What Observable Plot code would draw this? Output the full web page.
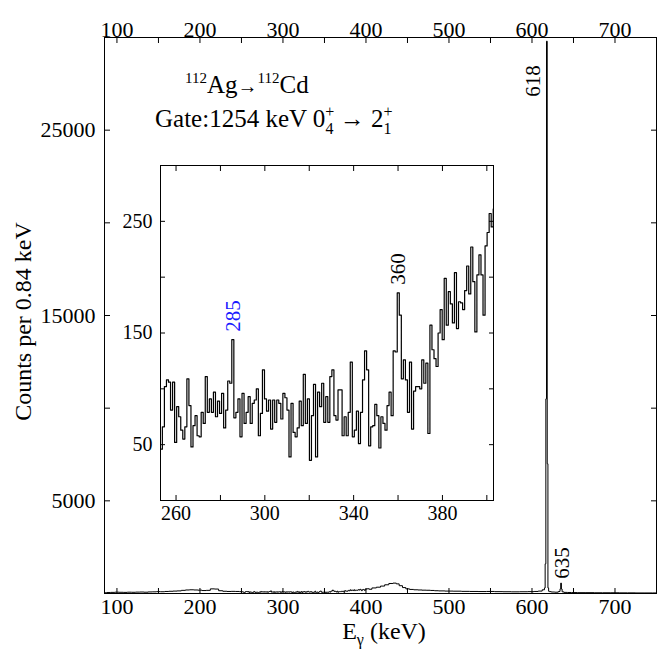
<!DOCTYPE html>
<html><head><meta charset="utf-8">
<script src="https://cdn.jsdelivr.net/npm/d3@7"></script>
<script src="https://cdn.jsdelivr.net/npm/@observablehq/plot@0.6"></script>
<style>
body{margin:0;background:#fff;}
#wrap{position:relative;width:657px;height:649px;overflow:hidden;}
</style></head><body><div id="wrap"></div>
<script>
const FONT = "'Liberation Serif', 'Times New Roman', serif";

// ---- main spectrum (energy in keV, counts per 0.84 keV) ----
const lowEnergy = [85,90,95,100,105,110,115,120,125,130,135,140,145,150,155,160,165,170,175,180,185,190,195,200,205,210,215,220,225,230,235,240,245,250];
const lowCounts = [40,55,60,70,65,60,70,65,75,80,70,85,90,100,95,110,120,130,140,170,190,200,190,180,160,170,250,240,150,120,110,115,110,100];

const highEnergy = [410,415,420,425,430,435,438,442,446,450,455,460,465,470,475,480,485,490,500,510,520,530,540,550,560,570,580,590,600,605,610,614.6,615.4,616.3,617.1,617.9,618.8,619.6,620.5,621.3,625,630,633.4,634.2,635.0,635.9,636.7,640,645,650,660,670,680,690,700,710,720,730,740,750];
const highCounts = [300,340,400,470,540,560,520,420,320,250,220,200,190,180,175,165,150,140,130,125,115,110,105,110,100,95,90,95,100,110,130,200,300,1600,10500,29800,7000,300,120,100,80,70,110,250,560,240,90,60,55,50,45,45,40,40,40,35,35,30,30,30];

// ---- inset spectrum: consecutive bins starting at insetStart ----
const insetStart = 252;
const insetBin = 0.92;
const insetCounts = [81,46,66,102,108,106,81,106,52,84,75,63,55,66,109,85,48,67,76,58,57,79,69,111,79,91,79,97,75,89,78,96,65,81,107,105,
144,74,79,91,57,96,69,79,93,69,87,90,100,58,78,117,91,80,90,64,90,70,90,87,73,96,92,81,39,87,61,57,65,89,67,113,69,91,36,76,104,39,97,84,105,70,93,70,111,117,76,72,99,99,58,75,58,79,124,57,63,80,51,79,108,134,117,49,66,67,86,76,47,75,69,63,85,97,76,134,133,
186,166,109,126,108,79,124,64,98,102,102,100,126,105,123,60,157,135,127,120,150,171,144,199,157,187,176,159,204,154,178,177,171,188,210,185,227,196,151,202,220,202,166,228,240,257,245,261,228];

// ---- ticks ----
const mainXTicks = [100,150,200,250,300,350,400,450,500,550,600,650,700,750];
const mainXLabels = [100,200,300,400,500,600,700];
const mainYTicks = [5000,10000,15000,20000,25000];
const mainYLabels = [5000,15000,25000];
const insetXTicks = [260,280,300,320,340,360,380,400];
const insetXLabels = [260,300,340,380];
const insetYTicks = [50,100,150,200,250];
const insetYLabels = [50,150,250];

// ---- tables ----
const insetData = insetCounts.map((c,i)=>({e: insetStart + (i+0.5)*insetBin, c}));
const spectrum = [
  ...lowEnergy.map((e,i)=>({e, c: lowCounts[i]})),
  ...insetData,
  ...highEnergy.map((e,i)=>({e, c: highCounts[i]}))
];

const blank = () => "";

const main = Plot.plot({
  width:657, height:649,
  marginLeft:104, marginRight:1, marginTop:37, marginBottom:56,
  x:{domain:[85,750]},
  y:{domain:[0,30000]},
  style:{fontFamily:FONT, fontSize:"22px", color:"black", background:"white", overflow:"visible"},
  marks:[
    Plot.axisX(mainXTicks, {anchor:"bottom", tickSize:-5, tickFormat:blank, label:null}),
    Plot.axisX(mainXTicks, {anchor:"top", tickSize:-5, tickFormat:blank, label:null}),
    Plot.axisX(mainXLabels, {anchor:"bottom", tickSize:0, tickPadding:5, tickFormat:d=>String(d), label:null}),
    Plot.axisX(mainXLabels, {anchor:"top", tickSize:0, tickPadding:1, tickFormat:d=>String(d), label:null}),
    Plot.axisY(mainYTicks, {anchor:"left", tickSize:-6, tickFormat:blank, label:null}),
    Plot.axisY(mainYTicks, {anchor:"right", tickSize:-6, tickFormat:blank, label:null}),
    Plot.axisY(mainYLabels, {anchor:"left", tickSize:0, tickPadding:9, tickFormat:d=>String(d), label:null}),
    Plot.line(spectrum, {x:"e", y:"c", curve:"step", stroke:"black", strokeWidth:1, clip:true}),
    Plot.frame({stroke:"black"}),
    Plot.text(["618"], {x:618, y:26800, text:d=>d, rotate:-90, textAnchor:"start", dx:-14, fontSize:21}),
    Plot.text(["635"], {x:635, y:800, text:d=>d, rotate:-90, textAnchor:"start", dx:1, fontSize:21}),
    Plot.text(["Counts per 0.84 keV"], {frameAnchor:"left", text:d=>d, rotate:-90, textAnchor:"middle", dx:-81, dy:6, fontSize:24})
  ]
});

const svg = d3.select(main);
const t1 = svg.append("text").attr("x",185).attr("y",93).attr("text-anchor","start").attr("font-family",FONT).attr("font-size",25).attr("fill","black");
t1.append("tspan").attr("font-size",15).attr("dy",-10).text("112");
t1.append("tspan").attr("dy",10).text("Ag");
t1.append("tspan").attr("font-size",20).text("→");
t1.append("tspan").attr("font-size",15).attr("dy",-10).text("112");
t1.append("tspan").attr("dy",10).text("Cd");

const t2 = svg.append("text").attr("x",155).attr("y",127).attr("text-anchor","start").attr("font-family",FONT).attr("font-size",25).attr("fill","black");
t2.append("tspan").text("Gate:1254 keV 0");
t2.append("tspan").attr("font-size",16).attr("dy",-10).text("+");
t2.append("tspan").attr("font-size",16).attr("dx",-9).attr("dy",17).text("4");
t2.append("tspan").attr("dy",-7).text(" → 2");
t2.append("tspan").attr("font-size",16).attr("dy",-10).text("+");
t2.append("tspan").attr("font-size",16).attr("dx",-9).attr("dy",17).text("1");

const t3 = svg.append("text").attr("x",384).attr("y",639).attr("text-anchor","middle").attr("font-family",FONT).attr("font-size",24).attr("fill","black");
t3.append("tspan").text("E");
t3.append("tspan").attr("font-size",16).attr("dy",6).text("γ");
t3.append("tspan").attr("dy",-6).text(" (keV)");

const inset = Plot.plot({
  width:390, height:385,
  marginLeft:50, marginRight:7, marginTop:15, marginBottom:35,
  x:{domain:[253,403]},
  y:{domain:[0,300]},
  style:{fontFamily:FONT, fontSize:"20px", color:"black", background:"transparent", overflow:"visible"},
  marks:[
    Plot.axisX(insetXTicks, {anchor:"bottom", tickSize:-5, tickFormat:blank, label:null}),
    Plot.axisX(insetXTicks, {anchor:"top", tickSize:-5, tickFormat:blank, label:null}),
    Plot.axisX(insetXLabels, {anchor:"bottom", tickSize:0, tickPadding:5, tickFormat:d=>String(d), label:null}),
    Plot.axisY(insetYTicks, {anchor:"left", tickSize:-5, tickFormat:blank, label:null}),
    Plot.axisY(insetYTicks, {anchor:"right", tickSize:-5, tickFormat:blank, label:null}),
    Plot.axisY(insetYLabels, {anchor:"left", tickSize:0, tickPadding:8, tickFormat:d=>String(d), label:null}),
    Plot.line(insetData, {x:"e", y:"c", curve:"step", stroke:"black", strokeWidth:1.2, clip:true}),
    Plot.frame({stroke:"black"}),
    Plot.text(["285"], {x:285.6, y:144, text:d=>d, rotate:-90, textAnchor:"start", dy:-8, fill:"#1a1aff", fontSize:21}),
    Plot.text(["360"], {x:360.1, y:186, text:d=>d, rotate:-90, textAnchor:"start", dy:-8, fontSize:21})
  ]
});
inset.style.position = "absolute";
inset.style.left = "110px";
inset.style.top = "150px";

const wrap = document.getElementById("wrap");
wrap.appendChild(main);
wrap.appendChild(inset);
</script></body></html>
